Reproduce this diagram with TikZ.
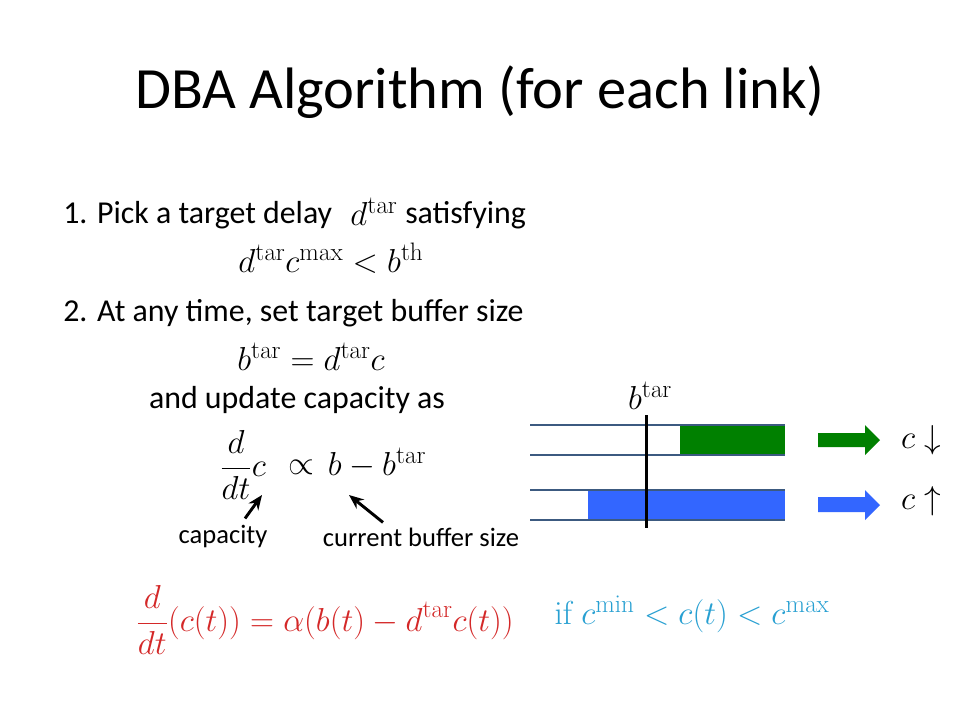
\documentclass[tikz,border=0pt]{standalone}
\usepackage{fix-cm}
\usepackage[no-math]{fontspec}
\setmainfont{Carlito}
\DeclareMathSizes{25}{25}{19}{14}
\usetikzlibrary{arrows.meta}
\definecolor{eqred}{RGB}{212,40,40}
\definecolor{eqblue}{RGB}{40,160,210}
\definecolor{bufline}{RGB}{60,90,128}
\definecolor{bufgreen}{RGB}{0,128,0}
\definecolor{bufblue}{RGB}{51,102,255}
\tikzset{
  title/.style={font=\fontsize{44}{52}\selectfont, inner sep=0pt},
  body/.style={font=\fontsize{24}{29}\selectfont, inner sep=0pt},
  mathn/.style={font=\fontsize{25}{30}\selectfont, inner sep=0pt},
  bufedge/.style={draw=bufline, line width=2bp},
  pointer/.style={-{Stealth[length=11bp,width=9bp]}, line width=2.2bp, black},
}
\begin{document}
\begin{tikzpicture}[x=0.75bp,y=-0.75bp]
\useasboundingbox[fill=white] (0,0) rectangle (960,720);
% title
\node[title] (title) at (480,92) {DBA Algorithm (for each link)};
% step 1
\node[body, anchor=west] (s1) at (63,215) {1. Pick a target delay};
\node[mathn] (dtar) at (374,212) {$d^{\mathrm{tar}}$};
\node[body, anchor=west] (sat) at (405,215) {satisfying};
\node[mathn] (cond) at (331,258) {$d^{\mathrm{tar}}c^{\max} < b^{\mathrm{th}}$};
% step 2
\node[body, anchor=west] (s2) at (63,313) {2. At any time, set target buffer size};
\node[mathn] (btar) at (311,357) {$b^{\mathrm{tar}} = d^{\mathrm{tar}}c$};
\node[body] (upd) at (297,400) {and update capacity as};
\node[mathn] (ddt) at (243,465) {$\displaystyle\frac{d}{dt}c$};
\node[mathn] (prop) at (301,467) {$\propto$};
\node[mathn] (rhs) at (377,463) {$b - b^{\mathrm{tar}}$};
\node[body, font=\fontsize{20}{24}\selectfont] (cap) at (223,536) {capacity};
\node[body, font=\fontsize{20}{24}\selectfont] (cur) at (421,537) {current buffer size};
\coordinate (capTip) at (262,495);
\coordinate (curTip) at (349,495);
\draw[pointer] (cap.north) ++(22,-6) coordinate (capFrom) (capFrom) -- (capTip);
\draw[pointer] (cur.north) ++(-38,-5) coordinate (curFrom) (curFrom) -- (curTip);
% bottom equation
\node[mathn, text=eqred] (dyn) at (325,620) {$\displaystyle\frac{d}{dt}(c(t)) = \alpha(b(t) - d^{\mathrm{tar}}c(t))$};
\node[mathn, text=eqblue] (rng) at (692,614) {$\mathrm{if}\ c^{\min} < c(t) < c^{\max}$};
% buffers
\fill[bufgreen] (680,425) rectangle (785,455);
\fill[bufblue] (588,490) rectangle (785,520);
\draw[bufedge] (530,425) -- (785,425);
\draw[bufedge] (530,455) -- (785,455);
\draw[bufedge] (530,490) -- (785,490);
\draw[bufedge] (530,520) -- (785,520);
\draw[line width=2.25bp] (646,415) -- (646,528);
\node[mathn] (blab) at (650,396) {$b^{\mathrm{tar}}$};
% block arrows
\fill[bufgreen] (818,433) -- (865,433) -- (865,425) -- (880,440) -- (865,455) -- (865,447) -- (818,447) -- cycle;
\fill[bufblue] (818,497) -- (865,497) -- (865,490) -- (880,505) -- (865,520) -- (865,512) -- (818,512) -- cycle;
\node[mathn] (cdown) at (921,440) {$c\downarrow$};
\node[mathn] (cup) at (921,501) {$c\uparrow$};
\end{tikzpicture}
\end{document}
